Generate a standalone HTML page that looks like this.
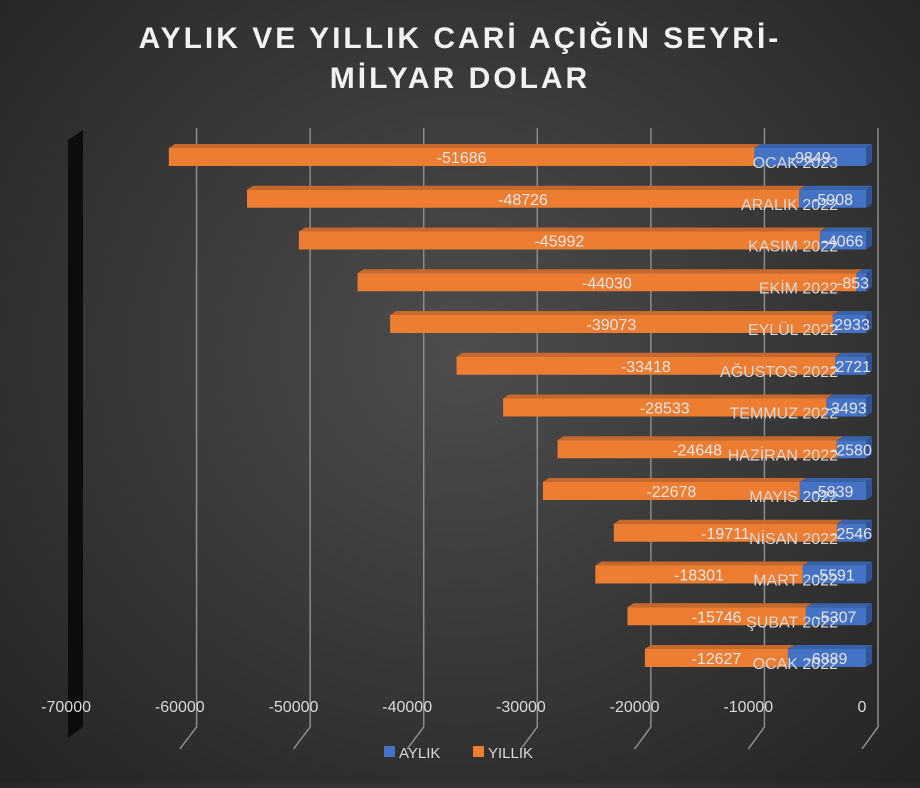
<!DOCTYPE html>
<html><head><meta charset="utf-8"><style>
html,body{margin:0;padding:0;}
body{width:920px;height:783px;overflow:hidden;background:radial-gradient(ellipse at 50% 45%,#4d4d4d 0%,#383838 50%,#232323 100%);font-family:"Liberation Sans",sans-serif;}
</style></head><body>
<svg id="chart" width="920" height="783" xmlns="http://www.w3.org/2000/svg">
<text x="460" y="48" text-anchor="middle" fill="#f2f2f2" font-size="30" font-weight="bold" letter-spacing="3" font-family="Liberation Sans, sans-serif">AYLIK VE YILLIK CARİ AÇIĞIN SEYRİ-</text>
<text x="460" y="88" text-anchor="middle" fill="#f2f2f2" font-size="30" font-weight="bold" letter-spacing="3" font-family="Liberation Sans, sans-serif">MİLYAR DOLAR</text>
<polygon points="68,140 83,130 83,727 68,738" fill="#0d0d0d"/>
<g id="grid"></g><g id="bars"></g><g id="axis"></g>
<g>
<rect x="384" y="746" width="11" height="11" fill="#4472c4"/>
<text x="399" y="758" fill="#d9d9d9" font-size="15">AYLIK</text>
<rect x="473" y="746" width="11" height="11" fill="#ed7d31"/>
<text x="488" y="758" fill="#d9d9d9" font-size="15">YILLIK</text>
</g>
</svg>
<script>
const categories=["OCAK 2023","ARALIK 2022","KASIM 2022","EKİM 2022","EYLÜL 2022","AĞUSTOS 2022","TEMMUZ 2022","HAZİRAN 2022","MAYIS 2022","NİSAN 2022","MART 2022","ŞUBAT 2022","OCAK 2022"];
const aylik=[-9849,-5908,-4066,-853,-2933,-2721,-3493,-2580,-5839,-2546,-5591,-5307,-6889];
const yillik=[-51686,-48726,-45992,-44030,-39073,-33418,-28533,-24648,-22678,-19711,-18301,-15746,-12627];
const ticks=[-70000,-60000,-50000,-40000,-30000,-20000,-10000,0];
const NS="http://www.w3.org/2000/svg";
function xBar(v){return 866+v*0.01133;}
function xBack(v){return 878+v*0.011357;}
function xFront(v){return 862+v*0.01137;}
function yRow(i){return 157+i*41.75;}
function mk(tag,attrs,parent){const e=document.createElementNS(NS,tag);for(const k in attrs)e.setAttribute(k,attrs[k]);parent.appendChild(e);return e;}
const grid=document.getElementById('grid'),bars=document.getElementById('bars'),axis=document.getElementById('axis');
ticks.forEach((t,i)=>{
  if(i>0){const l=mk('polyline',{points:`${xBack(t)},128 ${xBack(t)},727 ${xFront(t)},749`,fill:'none',stroke:'#8c8c8c','stroke-width':1.5},grid);
  
  }
  const tx=mk('text',{x:xFront(t),y:712,'text-anchor':'middle',fill:'#d9d9d9','font-size':16},axis);
  tx.textContent=t;
  
  
});
function box(x0,x1,yc,face,top,side,parent,name){
  const h=18,dx=6,dy=4,yt=yc-h/2;
  const g=mk('g',{},parent);
  
  
  mk('polygon',{points:`${x0},${yt} ${x0+dx},${yt-dy} ${x1+dx},${yt-dy} ${x1},${yt}`,fill:top},g);
  mk('polygon',{points:`${x1},${yt} ${x1+dx},${yt-dy} ${x1+dx},${yt+h-dy} ${x1},${yt+h}`,fill:side},g);
  mk('rect',{x:x0,y:yt,width:x1-x0,height:h,fill:face},g);
}
categories.forEach((c,i)=>{
  const yc=yRow(i);
  const xb=xBar(aylik[i]),xo=xBar(aylik[i]+yillik[i]),x0=xBar(0);
  box(xo,xb,yc,'#ed7d31','#c5692d','#b35a22',bars,'bar-yillik');
  box(xb,x0,yc,'#4472c4','#3a62a8','#2f5394',bars,'bar-aylik');
  const ty=mk('text',{x:(xo+xb)/2,y:yc+6,'text-anchor':'middle',fill:'#e6e6e6','font-size':16},bars);
  ty.textContent=yillik[i];
  
  
  const cl=mk('text',{x:838,y:yc+11,'text-anchor':'end',fill:'#d9d9d9','font-size':16},bars);
  cl.textContent=c;
  
  
  const ta=mk('text',{x:Math.min((xb+x0)/2,853),y:yc+6,'text-anchor':'middle',fill:'#e6e6e6','font-size':16},bars);
  ta.textContent=aylik[i];
  
  
});
</script>
</body></html>
